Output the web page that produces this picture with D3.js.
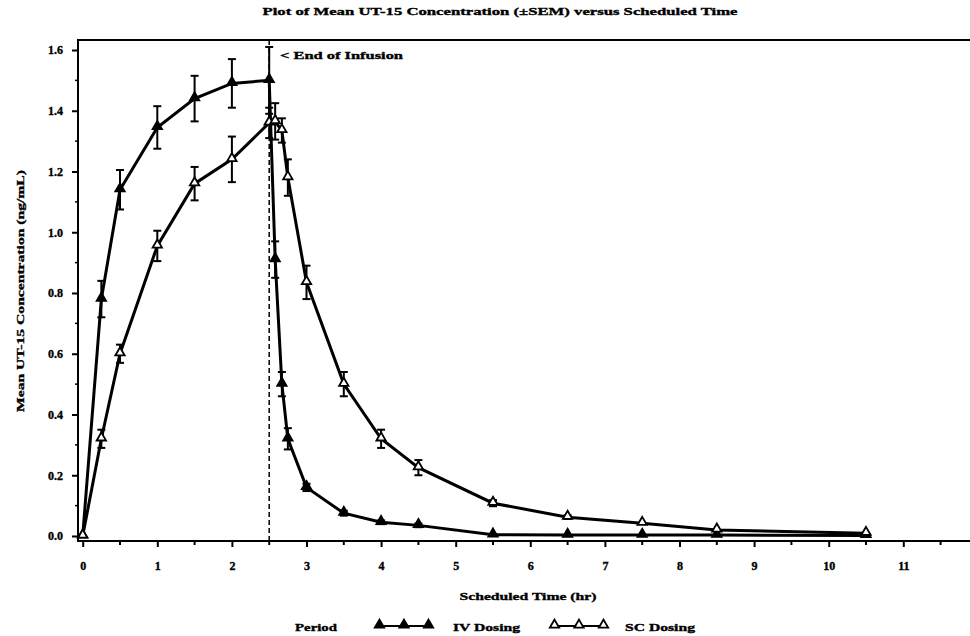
<!DOCTYPE html>
<html>
<head>
<meta charset="utf-8">
<script src="https://cdn.jsdelivr.net/npm/d3@7"></script>
<style>
  body { margin: 0; background: #ffffff; }
  text { font-family: "Liberation Serif", "DejaVu Serif", serif; font-weight: bold; fill: #000000; stroke: #000000; stroke-width: 0.35px; }
</style>
</head>
<body>
<div id="plot"></div>
<script>
var width = 970;
var height = 636;

// scheduled time (hr)
var times = [0, 0.25, 0.5, 1, 1.5, 2, 2.5, 2.58, 2.67, 2.75, 3, 3.5, 4, 4.5, 5.5, 6.5, 7.5, 8.5, 10.5];

// IV dosing mean and SEM (ng/mL)
var iv_mean = [0, 0.78, 1.14, 1.345, 1.44, 1.49, 1.50, 0.91, 0.50, 0.32, 0.16, 0.075, 0.045, 0.035, 0.004, 0.003, 0.003, 0.003, 0.002];
var iv_sem  = [0, 0.06, 0.065, 0.07, 0.075, 0.08, 0.11, 0.06, 0.04, 0.035, 0.012, 0.008, 0.006, 0.006, 0.002, 0.001, 0.001, 0.001, 0.001];

// SC dosing mean and SEM (ng/mL)
var sc_mean = [0, 0.32, 0.60, 0.955, 1.16, 1.24, 1.36, 1.365, 1.335, 1.18, 0.835, 0.50, 0.32, 0.225, 0.108, 0.062, 0.042, 0.02, 0.009];
var sc_sem  = [0, 0.03, 0.03, 0.05, 0.055, 0.075, 0.05, 0.06, 0.04, 0.06, 0.055, 0.04, 0.03, 0.025, 0.01, 0.006, 0.004, 0.004, 0.003];

var x_ticks = [0, 1, 2, 3, 4, 5, 6, 7, 8, 9, 10, 11, 12];
var y_ticks = [0.0, 0.2, 0.4, 0.6, 0.8, 1.0, 1.2, 1.4, 1.6];
var end_of_infusion = 2.5;

var title = 'Plot of Mean UT-15 Concentration (\u00b1SEM) versus Scheduled Time';
var x_label = 'Scheduled Time (hr)';
var y_label = 'Mean UT-15 Concentration (ng/mL)';

var canvas = d3.select('#plot')
    .append('svg')
    .attr('width', width)
    .attr('height', height);

var frame = {left: 78, top: 40, right: 990, bottom: 541};

var x_scale = d3.scaleLinear()
    .domain([0, 12])
    .range([82.7, 82.7 + 12 * 74.6]);

var y_scale = d3.scaleLinear()
    .domain([0, 1.6])
    .range([536, 50]);

// title
canvas.append('text')
    .attr('x', 500)
    .attr('y', 15)
    .attr('text-anchor', 'middle')
    .attr('font-size', 11)
    .attr('textLength', 475)
    .attr('lengthAdjust', 'spacingAndGlyphs')
    .text(title);

// frame
canvas.append('rect')
    .attr('x', frame.left)
    .attr('y', frame.top)
    .attr('width', frame.right - frame.left)
    .attr('height', frame.bottom - frame.top)
    .attr('fill', 'none')
    .attr('stroke', '#000000')
    .attr('stroke-width', 2);

// x axis
var x_axis = d3.axisBottom(x_scale)
    .tickValues(x_ticks)
    .tickSize(6)
    .tickPadding(14)
    .tickFormat(d3.format('d'));
var gx = canvas.append('g')
    .attr('transform', 'translate(0,' + frame.bottom + ')')
    .call(x_axis);
gx.select('.domain').remove();
gx.selectAll('line').attr('stroke-width', 2);
gx.selectAll('text')
    .attr('font-size', 12)
    .attr('font-family', '"Liberation Serif", serif')
    .attr('font-weight', 'bold');

var x_minor = d3.range(0.5, 12, 1);
canvas.selectAll('line.xminor')
    .data(x_minor)
    .enter()
    .append('line')
    .attr('class', 'xminor')
    .attr('x1', function(d) { return x_scale(d); })
    .attr('x2', function(d) { return x_scale(d); })
    .attr('y1', frame.bottom)
    .attr('y2', frame.bottom + 4)
    .attr('stroke', '#000000')
    .attr('stroke-width', 2);

// y axis
var y_axis = d3.axisLeft(y_scale)
    .tickValues(y_ticks)
    .tickSize(6)
    .tickPadding(9)
    .tickFormat(d3.format('.1f'));
var gy = canvas.append('g')
    .attr('transform', 'translate(' + frame.left + ',0)')
    .call(y_axis);
gy.select('.domain').remove();
gy.selectAll('line').attr('stroke-width', 2);
gy.selectAll('text')
    .attr('font-size', 12)
    .attr('font-family', '"Liberation Serif", serif')
    .attr('font-weight', 'bold');

var y_minor = d3.range(0.1, 1.6, 0.2);
canvas.selectAll('line.yminor')
    .data(y_minor)
    .enter()
    .append('line')
    .attr('class', 'yminor')
    .attr('x1', frame.left - 3)
    .attr('x2', frame.left)
    .attr('y1', function(d) { return y_scale(d); })
    .attr('y2', function(d) { return y_scale(d); })
    .attr('stroke', '#000000')
    .attr('stroke-width', 1.5);

// axis labels
canvas.append('text')
    .attr('x', 528)
    .attr('y', 600)
    .attr('text-anchor', 'middle')
    .attr('font-size', 11)
    .attr('textLength', 137)
    .attr('lengthAdjust', 'spacingAndGlyphs')
    .text(x_label);

canvas.append('text')
    .attr('transform', 'translate(24,291) rotate(-90)')
    .attr('text-anchor', 'middle')
    .attr('font-size', 11)
    .attr('textLength', 242)
    .attr('lengthAdjust', 'spacingAndGlyphs')
    .text(y_label);

// end of infusion line
canvas.append('line')
    .attr('x1', x_scale(end_of_infusion))
    .attr('x2', x_scale(end_of_infusion))
    .attr('y1', frame.top)
    .attr('y2', frame.bottom)
    .attr('stroke', '#000000')
    .attr('stroke-width', 1.5)
    .attr('stroke-dasharray', '5,3');

canvas.append('text')
    .attr('x', 280)
    .attr('y', 59)
    .attr('font-size', 11)
    .attr('textLength', 123)
    .attr('lengthAdjust', 'spacingAndGlyphs')
    .text('< End of Infusion');

// series
var series = [
    {name: 'IV Dosing', mean: iv_mean, sem: iv_sem, fill: '#000000'},
    {name: 'SC Dosing', mean: sc_mean, sem: sc_sem, fill: '#ffffff'}
];

var line_gen = d3.line()
    .x(function(d) { return x_scale(d[0]); })
    .y(function(d) { return y_scale(d[1]); });

var tri = d3.symbol().type(d3.symbolTriangle).size(38);

series.forEach(function(s) {
    var pts = times.map(function(t, i) { return [t, s.mean[i], s.sem[i]]; });

    canvas.append('path')
        .attr('d', line_gen(pts))
        .attr('fill', 'none')
        .attr('stroke', '#000000')
        .attr('stroke-width', 3);

    // error bars
    var bars = canvas.append('g');
    pts.filter(function(d) { return d[2] > 0.004; }).forEach(function(d) {
        var x = x_scale(d[0]);
        var y1 = y_scale(d[1] + d[2]);
        var y2 = y_scale(d[1] - d[2]);
        bars.append('line')
            .attr('x1', x).attr('x2', x).attr('y1', y1).attr('y2', y2)
            .attr('stroke', '#000000').attr('stroke-width', 2);
        [y1, y2].forEach(function(yy) {
            bars.append('line')
                .attr('x1', x - 4).attr('x2', x + 4).attr('y1', yy).attr('y2', yy)
                .attr('stroke', '#000000').attr('stroke-width', 2);
        });
    });

    canvas.selectAll(null)
        .data(pts)
        .enter()
        .append('path')
        .attr('d', tri)
        .attr('transform', function(d) { return 'translate(' + x_scale(d[0]) + ',' + (y_scale(d[1]) - 1) + ')'; })
        .attr('fill', s.fill)
        .attr('stroke', '#000000')
        .attr('stroke-width', 1.8);
});

// legend
var legend_y = 626;
canvas.append('text')
    .attr('x', 295)
    .attr('y', 631)
    .attr('font-size', 11)
    .attr('textLength', 42)
    .attr('lengthAdjust', 'spacingAndGlyphs')
    .text('Period');

var legend_items = [
    {label: series[0].name, fill: series[0].fill, x0: 379.5, tx: 453, tl: 67},
    {label: series[1].name, fill: series[1].fill, x0: 554.5, tx: 625, tl: 70}
];
legend_items.forEach(function(it) {
    var xs = [it.x0, it.x0 + 24.5, it.x0 + 49];
    canvas.append('line')
        .attr('x1', xs[0]).attr('x2', xs[2])
        .attr('y1', legend_y).attr('y2', legend_y)
        .attr('stroke', '#000000').attr('stroke-width', 2);
    xs.forEach(function(x) {
        canvas.append('path')
            .attr('d', tri)
            .attr('transform', 'translate(' + x + ',' + (legend_y - 1) + ')')
            .attr('fill', it.fill)
            .attr('stroke', '#000000')
            .attr('stroke-width', 1.8);
    });
    canvas.append('text')
        .attr('x', it.tx)
        .attr('y', 631)
        .attr('font-size', 11)
        .attr('textLength', it.tl)
        .attr('lengthAdjust', 'spacingAndGlyphs')
        .text(it.label);
});
</script>
</body>
</html>
